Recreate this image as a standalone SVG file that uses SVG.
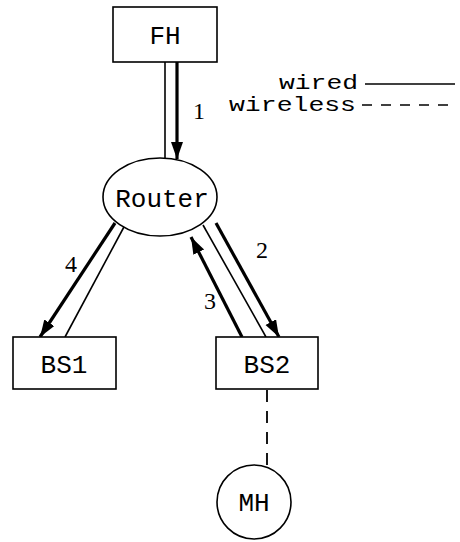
<svg xmlns="http://www.w3.org/2000/svg" width="460" height="542" viewBox="0 0 460 542">
<style>
.box{fill:#fff;stroke:#000;stroke-width:1.6}
.lbl{font-family:"Liberation Mono","Courier New",monospace;font-size:26px;fill:#000;text-anchor:middle}
.leg{font-family:"Liberation Mono","Courier New",monospace;font-size:20px;fill:#000;text-anchor:end}
.num{font-family:"Liberation Serif","Times New Roman",serif;font-size:24px;fill:#000;text-anchor:middle}
.thin{stroke:#000;stroke-width:1.6;fill:none}
.thick{stroke:#000;stroke-width:3.2;fill:none}
.dash{stroke:#000;stroke-width:1.8;fill:none;stroke-dasharray:12,9}
</style>
<defs>
<marker id="ah" markerUnits="userSpaceOnUse" markerWidth="20" markerHeight="14" refX="17" refY="6" orient="auto">
<path d="M0,0 L17,6 L0,12 z" fill="#000"/>
</marker>
</defs>
<g id="connectors">
<line class="thin" x1="165" y1="62" x2="165" y2="158"/>
<line class="thick" x1="177" y1="62" x2="177" y2="159" marker-end="url(#ah)"/>
<line class="thick" x1="115" y1="223" x2="40" y2="337" marker-end="url(#ah)"/>
<line class="thin" x1="125" y1="225" x2="65" y2="337"/>
<line class="thick" x1="216" y1="223" x2="279" y2="337" marker-end="url(#ah)"/>
<line class="thin" x1="203" y1="225" x2="266" y2="337"/>
<line class="thick" x1="242" y1="337" x2="191" y2="237" marker-end="url(#ah)"/>
<line class="dash" x1="267" y1="390" x2="267" y2="465"/>
</g>
<g id="FH"><rect class="box" x="113" y="7" width="104" height="55"/><text class="lbl" x="165" y="44">FH</text></g>
<g id="Router"><ellipse class="box" cx="160" cy="197" rx="57" ry="39"/><text class="lbl" x="162" y="207">Router</text></g>
<g id="BS1"><rect class="box" x="13" y="337" width="103" height="52"/><text class="lbl" x="64" y="373">BS1</text></g>
<g id="BS2"><rect class="box" x="216" y="337" width="102" height="52"/><text class="lbl" x="267" y="373">BS2</text></g>
<g id="MH"><circle class="box" cx="254" cy="502" r="37"/><text class="lbl" x="254" y="511">MH</text></g>
<g id="labels">
<text class="num" x="199" y="119">1</text>
<text class="num" x="262" y="258">2</text>
<text class="num" x="210" y="309">3</text>
<text class="num" x="71" y="272">4</text>
</g>
<g id="legend">
<text class="leg" x="358" y="89" textLength="79" lengthAdjust="spacingAndGlyphs">wired</text>
<line class="thin" x1="365" y1="84" x2="455" y2="84"/>
<text class="leg" x="356" y="111" textLength="127" lengthAdjust="spacingAndGlyphs">wireless</text>
<line class="thin" x1="362" y1="105" x2="455" y2="105" stroke-dasharray="10,9"/>
</g>
</svg>
